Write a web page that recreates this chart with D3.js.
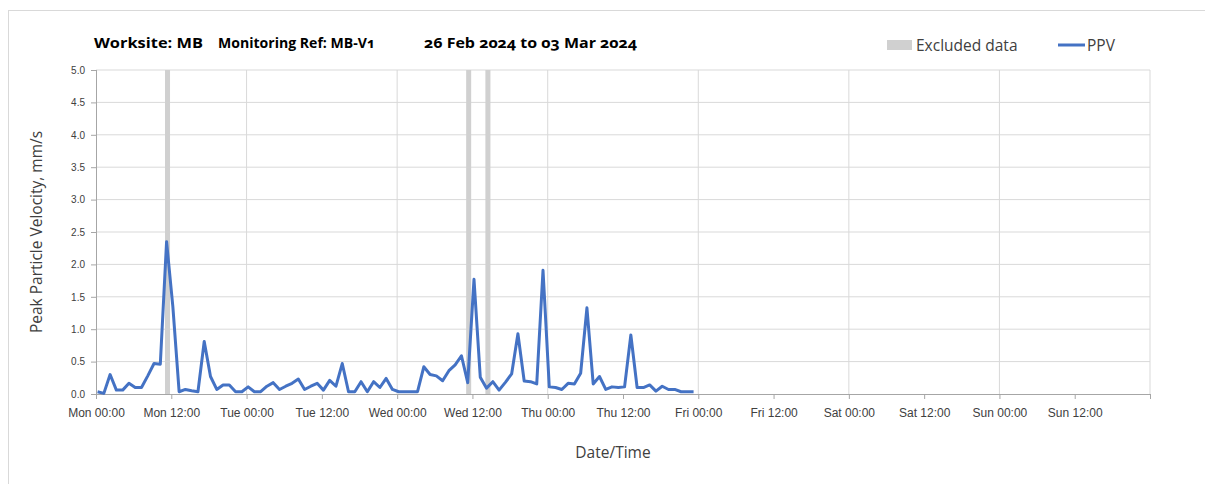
<!DOCTYPE html>
<html>
<head>
<meta charset="utf-8">
<script src="https://cdnjs.cloudflare.com/ajax/libs/d3/7.8.5/d3.min.js"></script>
<style>
  body { margin: 0; background: #ffffff; }
  svg { display: block; font-family: "Open Sans", "Noto Sans", sans-serif; font-variant-numeric: oldstyle-nums; }
  .grid line { stroke: #d9d9d9; }
  .axis path, .axis line { stroke: #a6a6a6; }
  .axis text { fill: #404040; }
</style>
</head>
<body>
<svg id="chart" width="1205" height="484"></svg>
<script>
// title parts
var titleParts = ["Worksite: MB", "Monitoring Ref: MB-V1", "26 Feb 2024 to 03 Mar 2024"];

// readings are hourly, first one at Mon 26 Feb 00:15
var firstReading = new Date(2024, 1, 26, 0, 15);
var ppvValues = [
  0.035, 0.01, 0.30, 0.06, 0.06, 0.165, 0.10, 0.10, 0.28, 0.47,
  0.46, 2.35, 1.35, 0.035, 0.07, 0.05, 0.035, 0.81, 0.27, 0.07,
  0.14, 0.14, 0.035, 0.035, 0.11, 0.035, 0.035, 0.12, 0.175, 0.07,
  0.12, 0.165, 0.23, 0.07, 0.12, 0.165, 0.06, 0.21, 0.12, 0.47,
  0.035, 0.035, 0.19, 0.035, 0.19, 0.10, 0.24, 0.07, 0.035, 0.035,
  0.035, 0.035, 0.42, 0.30, 0.28, 0.205, 0.36, 0.45, 0.59, 0.175,
  1.77, 0.26, 0.09, 0.19, 0.06, 0.18, 0.31, 0.93, 0.20, 0.19,
  0.155, 1.91, 0.11, 0.10, 0.07, 0.165, 0.155, 0.32, 1.33, 0.155,
  0.27, 0.07, 0.11, 0.10, 0.11, 0.91, 0.10, 0.10, 0.14, 0.045,
  0.12, 0.07, 0.07, 0.035, 0.035, 0.035
];

// excluded periods
var excludedRanges = [
  [new Date(2024, 1, 26, 11, 0), new Date(2024, 1, 26, 11, 48)],
  [new Date(2024, 1, 28, 11, 0), new Date(2024, 1, 28, 11, 48)],
  [new Date(2024, 1, 28, 14, 4), new Date(2024, 1, 28, 14, 52)]
];

var xDomain = [new Date(2024, 1, 26, 0, 0), new Date(2024, 2, 4, 0, 0)];
var xTickLabels = ["Mon 00:00", "Mon 12:00", "Tue 00:00", "Tue 12:00", "Wed 00:00", "Wed 12:00",
  "Thu 00:00", "Thu 12:00", "Fri 00:00", "Fri 12:00", "Sat 00:00", "Sat 12:00", "Sun 00:00", "Sun 12:00"];
var yTicks = [0, 0.5, 1.0, 1.5, 2.0, 2.5, 3.0, 3.5, 4.0, 4.5, 5.0];

var legendLabels = ["Excluded data", "PPV"];
var xTitle = "Date/Time";
var yTitle = "Peak Particle Velocity, mm/s";

var svg = d3.select("#chart");
var margin = { top: 70, right: 55, bottom: 90, left: 96 };
var width = 1205 - margin.left - margin.right;
var height = 484 - margin.top - margin.bottom;

// outer chart frame
svg.append("rect")
  .attr("x", 8.5).attr("y", 10.5)
  .attr("width", 1210).attr("height", 490)
  .attr("fill", "none").attr("stroke", "#d9d9d9");

var data = ppvValues.map(function (v, i) {
  return { t: d3.timeHour.offset(firstReading, i), v: v };
});

var x = d3.scaleTime().domain(xDomain).range([0, width]);
var y = d3.scaleLinear().domain([0, 5]).range([height, 0]);

var g = svg.append("g")
  .attr("transform", "translate(" + margin.left + "," + margin.top + ")");

// horizontal grid
g.append("g").attr("class", "grid")
  .selectAll("line")
  .data(yTicks.slice(1))
  .enter().append("line")
  .attr("x1", 0).attr("x2", width)
  .attr("y1", function (d) { return y(d); })
  .attr("y2", function (d) { return y(d); });

// vertical grid at each midnight
var dayTicks = d3.timeDay.range(d3.timeDay.offset(xDomain[0], 1), d3.timeDay.offset(xDomain[1], 1));
g.append("g").attr("class", "grid")
  .selectAll("line")
  .data(dayTicks)
  .enter().append("line")
  .attr("x1", function (d) { return x(d); })
  .attr("x2", function (d) { return x(d); })
  .attr("y1", 0).attr("y2", height);

// excluded bands
g.selectAll("rect.excluded")
  .data(excludedRanges)
  .enter().append("rect")
  .attr("class", "excluded")
  .attr("x", function (d) { return x(d[0]); })
  .attr("width", function (d) { return x(d[1]) - x(d[0]); })
  .attr("y", 0).attr("height", height)
  .attr("fill", "#d0d0d0");

// axes
var xTickValues = d3.timeHour.every(12).range(xDomain[0], d3.timeHour.offset(xDomain[1], 1));
var xAxis = d3.axisBottom(x)
  .tickValues(xTickValues)
  .tickSize(5)
  .tickFormat(function (d, i) { return xTickLabels[i] || ""; });
g.append("g").attr("class", "axis")
  .attr("transform", "translate(0," + height + ")")
  .call(xAxis)
  .call(function (s) {
    s.select(".domain").attr("d", "M0,0.5H" + width);
    s.selectAll("text").attr("y", 14).style("font-size", "12px");
  });

var yAxis = d3.axisLeft(y)
  .tickValues(yTicks)
  .tickSize(5)
  .tickFormat(d3.format(".1f"));
g.append("g").attr("class", "axis")
  .call(yAxis)
  .call(function (s) {
    s.select(".domain").attr("d", "M0.5,0V" + height);
    s.selectAll("text").attr("x", -11).style("font-size", "10px");
  });

// PPV line
var line = d3.line()
  .x(function (d) { return x(d.t); })
  .y(function (d) { return y(d.v); });
g.append("path")
  .datum(data)
  .attr("d", line)
  .attr("fill", "none")
  .attr("stroke", "#4472c4")
  .attr("stroke-width", 3)
  .attr("stroke-linejoin", "round");

// title
var titleX = [94, 218, 424];
var titleW = [109, 157, 213];
svg.append("g").selectAll("text")
  .data(titleParts)
  .enter().append("text")
  .attr("x", function (d, i) { return titleX[i]; })
  .attr("y", 48)
  .attr("textLength", function (d, i) { return titleW[i]; })
  .attr("lengthAdjust", "spacingAndGlyphs")
  .style("font-size", "15px")
  .style("font-weight", "bold")
  .attr("fill", "#000")
  .text(function (d) { return d; });

// legend
var legend = svg.append("g");
legend.append("rect")
  .attr("x", 887).attr("y", 40).attr("width", 25).attr("height", 10)
  .attr("fill", "#d0d0d0");
legend.append("text")
  .attr("x", 916).attr("y", 51)
  .style("font-size", "15.5px").attr("fill", "#404040")
  .text(legendLabels[0]);
legend.append("line")
  .attr("x1", 1058).attr("x2", 1085).attr("y1", 45).attr("y2", 45)
  .attr("stroke", "#4472c4").attr("stroke-width", 3);
legend.append("text")
  .attr("x", 1087).attr("y", 51)
  .style("font-size", "15.5px").attr("fill", "#404040")
  .text(legendLabels[1]);

// axis titles
svg.append("text")
  .attr("x", margin.left + 517).attr("y", 458)
  .attr("text-anchor", "middle")
  .style("font-size", "15.5px").attr("fill", "#404040")
  .text(xTitle);

svg.append("text")
  .attr("transform", "translate(42," + (margin.top + height / 2) + ") rotate(-90)")
  .attr("text-anchor", "middle")
  .style("font-size", "15.5px").attr("fill", "#404040")
  .text(yTitle);
</script>
</body>
</html>
